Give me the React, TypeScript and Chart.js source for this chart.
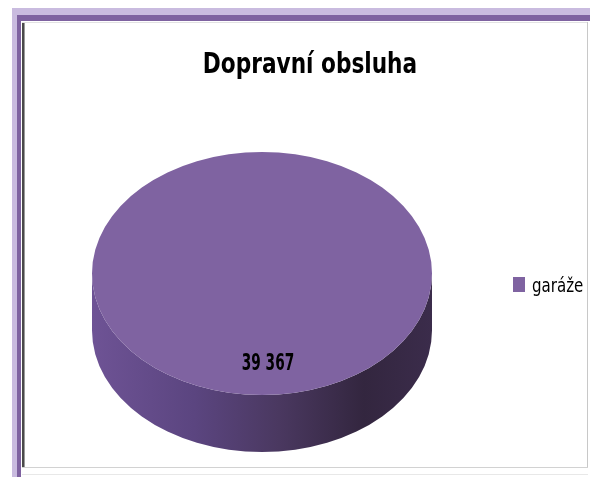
import React, { useEffect, useRef } from "react";
import { Chart, registerables } from "chart.js";

Chart.register(...registerables);

const TITLE = "Dopravní obsluha";
const CATEGORIES = ["garáže"];
const VALUES = [39367];
const COLORS = ["#7f63a1"];

const TILT = 0.715; // vertical squish of the pie
const DEPTH = 57; // 3D side depth in px

const FONT = '"DejaVu Sans Condensed", "Liberation Sans", sans-serif';

function fmt(v: number) {
  return String(v).replace(/\B(?=(\d{3})+(?!\d))/g, " ");
}

function squishText(
  ctx: CanvasRenderingContext2D,
  text: string,
  x: number,
  y: number,
  font: string,
  sx: number,
  align: CanvasTextAlign
) {
  ctx.save();
  ctx.font = font;
  ctx.textAlign = align;
  ctx.textBaseline = "alphabetic";
  ctx.fillStyle = "#000000";
  ctx.translate(x, y);
  ctx.scale(sx, 1);
  ctx.fillText(text, 0, 0);
  ctx.restore();
}

const framePlugin = {
  id: "frame",
  beforeDraw(chart: any) {
    const ctx = chart.ctx as CanvasRenderingContext2D;
    const W = chart.width, H = chart.height;
    ctx.save();
    ctx.fillStyle = "#ffffff";
    ctx.fillRect(0, 0, W, H);
    ctx.fillStyle = "#c9bbdf";
    ctx.fillRect(12, 8, W - 12, H - 8);
    ctx.fillStyle = "#7e62a0";
    ctx.fillRect(17, 15, W - 17, H - 15);
    ctx.fillStyle = "#ffffff";
    ctx.fillRect(21, 21, W - 21, H - 21);
    ctx.fillStyle = "#e2e2e2";
    ctx.fillRect(22, 22, W - 24, 1);
    ctx.fillStyle = "#4a4a4a";
    ctx.fillRect(22, 23, 2, 445);
    ctx.fillStyle = "#9a9a9a";
    ctx.fillRect(24, 23, 1, 445);
    ctx.fillStyle = "#c8c8c8";
    ctx.fillRect(587, 22, 1, 446);
    ctx.fillStyle = "#d2d2d2";
    ctx.fillRect(22, 467, W - 24, 1);
    ctx.fillStyle = "#e8e8e8";
    ctx.fillRect(22, 474, W - 24, 1);
    ctx.restore();
  },
  afterDraw(chart: any) {
    const ctx = chart.ctx as CanvasRenderingContext2D;
    // title
    squishText(ctx, TITLE, 310, 73, `bold 29px ${FONT}`, 0.83, "center");
    // legend
    CATEGORIES.forEach((label, i) => {
      ctx.save();
      ctx.fillStyle = COLORS[i];
      ctx.fillRect(513, 277 + i * 24, 12, 15);
      ctx.restore();
      squishText(ctx, label, 532, 292 + i * 24, `19px ${FONT}`, 0.88, "left");
    });
  },
};

const pie3dPlugin = {
  id: "pie3d",
  beforeDatasetsDraw(chart: any) {
    const ctx = chart.ctx as CanvasRenderingContext2D;
    const arc = chart.getDatasetMeta(0).data[0];
    if (!arc) return;
    const { x: cx, y: cy, outerRadius: rx } = arc.getProps(["x", "y", "outerRadius"], true);
    const ry = rx * TILT;
    ctx.save();
    const g = ctx.createLinearGradient(cx - rx, 0, cx + rx, 0);
    g.addColorStop(0, "#6e5395");
    g.addColorStop(0.3, "#5b4580");
    g.addColorStop(0.55, "#4a3860");
    g.addColorStop(0.8, "#33263f");
    g.addColorStop(1, "#3b2c4b");
    ctx.fillStyle = g;
    ctx.beginPath();
    ctx.ellipse(cx, cy, rx, ry, 0, 0, Math.PI, false);
    ctx.lineTo(cx - rx, cy + DEPTH);
    ctx.ellipse(cx, cy + DEPTH, rx, ry, 0, Math.PI, 0, true);
    ctx.closePath();
    ctx.fill();
    ctx.restore();

    ctx.save();
    ctx.translate(cx, cy);
    ctx.scale(1, TILT);
    ctx.translate(-cx, -cy);
  },
  afterDatasetsDraw(chart: any) {
    const ctx = chart.ctx as CanvasRenderingContext2D;
    ctx.restore();
    const arc = chart.getDatasetMeta(0).data[0];
    if (!arc) return;
    const { x: cx, y: cy, outerRadius: rx } = arc.getProps(["x", "y", "outerRadius"], true);
    const val = chart.data.datasets[0].data[0];
    squishText(ctx, fmt(val), cx + 6, cy + rx * 0.57, `bold 23px ${FONT}`, 0.66, "center");
  },
};

export default function App() {
  const ref = useRef<HTMLCanvasElement>(null);
  useEffect(() => {
    if (!ref.current) return;
    const chart = new Chart(ref.current, {
      type: "pie",
      data: {
        labels: CATEGORIES,
        datasets: [
          {
            data: VALUES,
            backgroundColor: COLORS,
            borderWidth: 0,
            hoverOffset: 0,
          },
        ],
      },
      options: {
        responsive: false,
        animation: false,
        events: [],
        radius: 170,
        layout: { padding: { left: 30, right: 96, top: 90, bottom: 20 } },
        plugins: {
          title: { display: false },
          legend: { display: false },
          tooltip: { enabled: false },
        },
      } as any,
      plugins: [framePlugin, pie3dPlugin],
    });
    return () => chart.destroy();
  }, []);
  return (
    <div style={{ position: "fixed", left: 0, top: 0, width: 590, height: 477 }}>
      <canvas ref={ref} width={590} height={477} style={{ display: "block" }} />
    </div>
  );
}
